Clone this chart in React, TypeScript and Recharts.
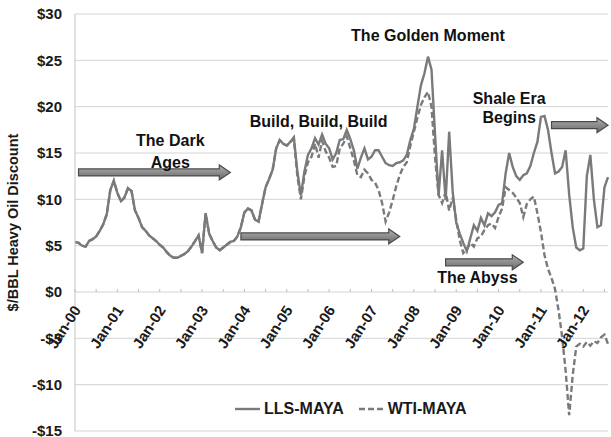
import React from "react";
import {
  LineChart, Line, XAxis, YAxis, CartesianGrid, Legend, ReferenceDot, ReferenceLine, Label,
} from "recharts";

const FONT = '"Liberation Sans", Arial, sans-serif';

const monthNames = ["Jan", "Feb", "Mar", "Apr", "May", "Jun", "Jul", "Aug", "Sep", "Oct", "Nov", "Dec"];
const years = ["00", "01", "02", "03", "04", "05", "06", "07", "08", "09", "10", "11", "12"];

// LLS minus Maya, $/bbl, monthly Jan-00 .. Aug-12
const lls = [
  5.4, 5.3, 5.0, 4.9, 5.5, 5.7, 6.0, 6.6, 7.3, 8.4, 11.0, 12.0,
  10.7, 9.8, 10.2, 11.2, 10.9, 8.8, 8.0, 7.0, 6.6, 6.1, 5.8, 5.5,
  5.1, 4.8, 4.3, 3.9, 3.7, 3.7, 3.9, 4.1, 4.4, 4.9, 5.5, 6.1,
  4.2, 8.5, 6.3, 5.5, 4.8, 4.5, 4.8, 5.1, 5.4, 5.5, 6.0, 7.0,
  8.6, 9.0, 8.8, 7.8, 7.6, 9.5, 11.3, 12.2, 13.2, 15.5, 16.4, 16.0,
  15.8, 16.2, 16.7, 13.0, 10.4, 13.0, 14.8, 15.5, 16.6, 15.9, 17.0, 16.0,
  15.5, 14.3, 15.0, 16.4, 16.5, 17.5, 16.5, 15.3, 13.3, 14.5, 15.5, 14.3,
  14.6, 15.3, 15.3, 14.6, 13.9, 13.7, 13.6, 13.9, 14.0, 14.2, 14.8, 16.4,
  17.6, 20.0, 22.3, 23.6, 25.4, 24.0, 17.0, 10.4, 15.3, 9.9, 17.3, 10.8,
  7.5, 6.3, 5.3, 4.4, 5.8, 7.2, 6.6, 8.0, 7.2, 8.5, 8.2, 8.6,
  9.4, 9.6, 12.8, 15.0, 13.5, 12.5, 12.1, 12.6, 12.8, 13.6, 15.0, 16.2,
  18.9, 19.0, 17.5, 15.0, 12.8, 13.0, 13.5, 15.3, 10.5, 7.0, 4.8, 4.5,
  4.7, 12.5, 14.8, 10.0, 7.0, 7.2, 11.3, 12.4,
];

// WTI minus Maya
const wti = [
  5.4, 5.3, 5.0, 4.9, 5.5, 5.7, 6.0, 6.6, 7.3, 8.4, 11.0, 12.0,
  10.7, 9.8, 10.2, 11.2, 10.9, 8.8, 8.0, 7.0, 6.6, 6.1, 5.8, 5.5,
  5.1, 4.8, 4.3, 3.9, 3.7, 3.7, 3.9, 4.1, 4.4, 4.9, 5.5, 6.1,
  4.2, 8.5, 6.3, 5.5, 4.8, 4.5, 4.8, 5.1, 5.4, 5.5, 6.0, 7.0,
  8.6, 9.0, 8.8, 7.8, 7.6, 9.5, 11.3, 12.2, 13.2, 15.5, 16.4, 16.0,
  15.8, 16.2, 16.5, 12.5, 10.0, 12.5, 14.0, 14.6, 16.0, 14.5, 16.3, 15.2,
  14.5, 13.5, 13.6, 15.5, 16.0, 16.8, 15.5, 14.2, 12.6, 12.4, 13.2, 12.8,
  12.1, 11.8, 11.0, 9.6, 7.6, 8.6, 9.9, 11.4, 12.6, 13.5, 14.0, 15.8,
  17.3, 18.8, 20.2, 21.0, 21.6, 20.0, 14.5, 10.5, 9.6, 10.8, 8.8, 10.2,
  7.8, 5.6, 4.2, 4.6, 5.3, 4.9, 5.8, 6.0, 6.7, 7.2, 7.4, 6.9,
  8.1, 9.0, 11.3, 11.0, 10.7, 10.2, 9.6, 8.1, 9.5, 10.0, 10.3, 8.5,
  6.5, 4.0, 2.5, 1.5, 0.3, -2.0, -4.8, -8.5, -13.3, -9.0, -5.9, -5.6,
  -5.9, -5.4, -5.8, -5.3, -5.5, -4.9, -4.6, -5.6,
];

const months = years.flatMap((y) => monthNames.map((n) => `${n}-${y}`)).slice(0, lls.length);
const halfYearMarks = months.filter((_, i) => i % 6 === 0);
const yTicks = [-15, -10, -5, 0, 5, 10, 15, 20, 25, 30];

const notes = [
  { text: "The Dark", x: "Apr-02", y: 16.4 },
  { text: "Ages", x: "Apr-02", y: 14.0 },
  { text: "Build, Build, Build", x: "Oct-05", y: 18.4 },
  { text: "The Golden Moment", x: "May-08", y: 27.7 },
  { text: "Shale Era", x: "Apr-10", y: 20.9 },
  { text: "Begins", x: "Apr-10", y: 18.8 },
  { text: "The Abyss", x: "Jul-09", y: 1.6 },
];

const arrows = [
  { from: "Feb-00", to: "Sep-03", y: 12.9 },
  { from: "Dec-03", to: "Sep-07", y: 6.0 },
  { from: "Oct-08", to: "Aug-10", y: 3.2 },
  { from: "Apr-11", to: "Aug-12", y: 18.0 },
];

const data = months.map((month, i) => ({ month, lls: lls[i], wti: wti[i] }));

const fmtDollar = (v: number) => (v < 0 ? `-$${Math.abs(v)}` : `$${v}`);

function BlockArrow(props: any) {
  const { x1, y1, x2 } = props;
  const body = 3.5;
  const head = 7.5;
  const xe = x2 - 11;
  const pts = [
    [x1, y1 - body], [xe, y1 - body], [xe, y1 - head], [x2, y1],
    [xe, y1 + head], [xe, y1 + body], [x1, y1 + body],
  ].map((p) => p.join(",")).join(" ");
  return <polygon points={pts} fill="url(#arrowFill)" stroke="#4a4a4a" strokeWidth={1.2} />;
}

function AxisMark({ cx, cy, month }: any) {
  const isJan = month.startsWith("Jan");
  const ax = cx + 2;
  const ay = cy + 15;
  return (
    <g>
      <line x1={cx} x2={cx} y1={cy - 3} y2={cy} stroke="#bdbdbd" />
      {isJan && (
        <text
          x={ax}
          y={ay}
          transform={`rotate(-57, ${ax}, ${ay})`}
          textAnchor="end"
          dominantBaseline="central"
          fontFamily={FONT}
          fontWeight={700}
          fontSize={15}
          fill="#1a1a1a"
        >
          {month}
        </text>
      )}
    </g>
  );
}

function LegendBox(props: any) {
  const items = props.payload ?? [];
  return (
    <div style={{ display: "flex", alignItems: "center", fontFamily: FONT, fontWeight: 700, fontSize: 16, color: "#1a1a1a", whiteSpace: "nowrap" }}>
      {items.map((it: any, i: number) => (
        <span key={it.value} style={{ display: "inline-flex", alignItems: "center", marginRight: i === 0 ? 15 : 0 }}>
          <svg width={25} height={10} style={{ marginRight: 4 }}>
            <line x1={0} y1={5} x2={25} y2={5} stroke={it.color} strokeWidth={2.4}
              strokeDasharray={it.dataKey === "wti" ? "6 3" : undefined} />
          </svg>
          {it.value}
        </span>
      ))}
    </div>
  );
}

export default function App() {
  return (
    <div style={{ position: "absolute", left: 0, top: 0, background: "#fff" }}>
      <LineChart width={611} height={437} data={data} margin={{ top: 14, right: 3, bottom: 6, left: 0 }}>
        <defs>
          <linearGradient id="arrowFill" x1="0" y1="0" x2="0" y2="1">
            <stop offset="0%" stopColor="#b5b5b5" />
            <stop offset="50%" stopColor="#8c8c8c" />
            <stop offset="100%" stopColor="#6a6a6a" />
          </linearGradient>
        </defs>
        <CartesianGrid vertical={false} stroke="#d4d4d4" />
        <XAxis dataKey="month" hide height={0} />
        <YAxis
          domain={[-15, 30]}
          ticks={yTicks}
          interval={0}
          width={75}
          tickLine={false}
          tickSize={0}
          tickMargin={13}
          axisLine={{ stroke: "#c4c4c4" }}
          tickFormatter={fmtDollar}
          tick={{ fontFamily: FONT, fontWeight: 700, fontSize: 15, fill: "#1a1a1a" }}
        >
          <Label
            content={({ viewBox }: any) => (
              <text
                transform={`translate(13, ${viewBox.y + viewBox.height / 2}) rotate(-90)`}
                textAnchor="middle"
                dominantBaseline="central"
                fontFamily={FONT}
                fontWeight={700}
                fontSize={14.5}
                fill="#1a1a1a"
              >
                $/BBL Heavy Oil Discount
              </text>
            )}
          />
        </YAxis>
        {halfYearMarks.map((m) => (
          <ReferenceDot key={`t-${m}`} x={m} y={0} r={0} ifOverflow="visible"
            shape={(p: any) => <AxisMark cx={p.cx} cy={p.cy} month={m} />} />
        ))}
        <Line type="linear" dataKey="lls" name="LLS-MAYA" stroke="#7a7a7a" strokeWidth={2.4}
          dot={false} isAnimationActive={false} />
        <Line type="linear" dataKey="wti" name="WTI-MAYA" stroke="#7a7a7a" strokeWidth={2.4}
          strokeDasharray="6 3" dot={false} isAnimationActive={false} />
        {arrows.map((a) => (
          <ReferenceLine key={`a-${a.from}`} segment={[{ x: a.from, y: a.y }, { x: a.to, y: a.y }]}
            ifOverflow="visible" shape={(p: any) => <BlockArrow {...p} />} />
        ))}
        {notes.map((n) => (
          <ReferenceDot key={`n-${n.text}`} x={n.x} y={n.y} r={0} ifOverflow="visible"
            shape={(p: any) => (
              <text x={p.cx} y={p.cy} textAnchor="middle" dominantBaseline="central"
                fontFamily={FONT} fontWeight={700} fontSize={16} fill="#111">
                {n.text}
              </text>
            )} />
        ))}
        <Legend
          layout="horizontal"
          verticalAlign="middle"
          align="center"
          content={<LegendBox />}
          wrapperStyle={{ left: 235, top: 400, width: "auto" }}
        />
      </LineChart>
    </div>
  );
}
